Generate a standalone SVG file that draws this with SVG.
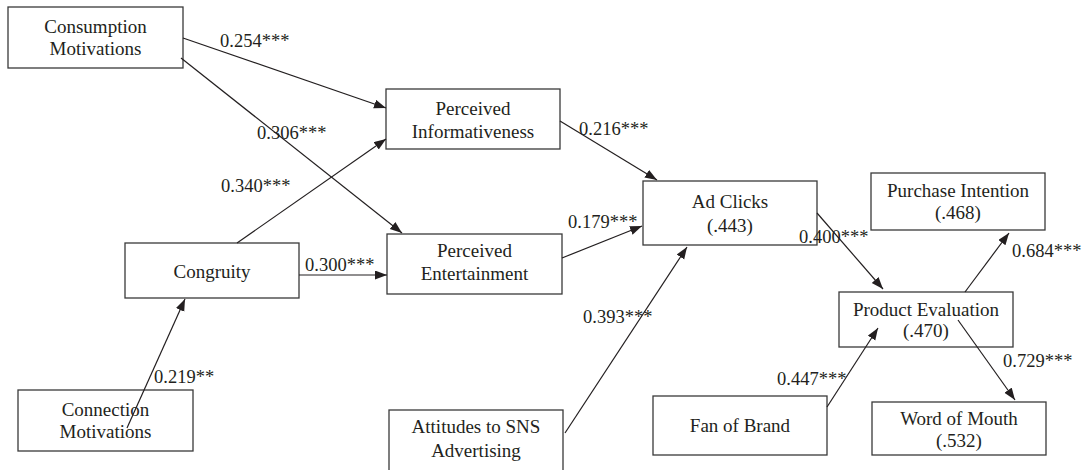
<svg xmlns="http://www.w3.org/2000/svg" width="1084" height="470" viewBox="0 0 1084 470" font-family="'Liberation Serif', 'Times New Roman', 'DejaVu Serif', serif">
<style>
.box{fill:#fff;stroke:#3a3a3a;stroke-width:1.3}
text{font-family:'Liberation Serif','Times New Roman','DejaVu Serif',serif;font-size:18.5px;fill:#231f20}
.t{text-anchor:middle;font-size:19px}
.c{stroke:#231f20;stroke-width:1.2;fill:none;marker-end:url(#ah)}
</style>
<defs>
<marker id="ah" markerUnits="userSpaceOnUse" markerWidth="13" markerHeight="10" refX="12" refY="4.5" orient="auto">
<path d="M0,0 L12,4.5 L0,9 z" fill="#231f20"/>
</marker>
</defs>
<rect width="1084" height="470" fill="#fff"/>
<g id="consumption">
<rect class="box" x="8" y="7" width="175" height="61"/>
<text class="t" x="95.5" y="33">Consumption</text>
<text class="t" x="95.5" y="55">Motivations</text>
</g>
<g id="connection">
<rect class="box" x="18" y="390" width="175" height="61"/>
<text class="t" x="105.5" y="416">Connection</text>
<text class="t" x="105.5" y="438">Motivations</text>
</g>
<g id="congruity">
<rect class="box" x="125" y="243" width="174" height="55"/>
<text class="t" x="212" y="278">Congruity</text>
</g>
<g id="informativeness">
<rect class="box" x="386" y="89" width="174" height="60"/>
<text class="t" x="473" y="115">Perceived</text>
<text class="t" x="473" y="138">Informativeness</text>
</g>
<g id="entertainment">
<rect class="box" x="387" y="234" width="175" height="60"/>
<text class="t" x="474.5" y="257">Perceived</text>
<text class="t" x="474.5" y="280">Entertainment</text>
</g>
<g id="attitudes">
<rect class="box" x="389" y="410" width="174" height="70"/>
<text class="t" x="476" y="433">Attitudes to SNS</text>
<text class="t" x="476" y="457">Advertising</text>
</g>
<g id="adclicks">
<rect class="box" x="643" y="181" width="174" height="64"/>
<text class="t" x="730" y="208">Ad Clicks</text>
<text class="t" x="730" y="232">(.443)</text>
</g>
<g id="purchase">
<rect class="box" x="871" y="173" width="174" height="57"/>
<text class="t" x="958" y="197">Purchase Intention</text>
<text class="t" x="958" y="219">(.468)</text>
</g>
<g id="product">
<rect class="box" x="839" y="292" width="174" height="55"/>
<text class="t" x="926" y="316">Product Evaluation</text>
<text class="t" x="926" y="337">(.470)</text>
</g>
<g id="fan">
<rect class="box" x="653" y="396" width="174" height="59"/>
<text class="t" x="740" y="432">Fan of Brand</text>
</g>
<g id="wom">
<rect class="box" x="872" y="402" width="174" height="53"/>
<text class="t" x="959" y="425">Word of Mouth</text>
<text class="t" x="959" y="447">(.532)</text>
</g>
<g id="connectors">
<line class="c" x1="183" y1="38" x2="386" y2="108"/>
<line class="c" x1="181" y1="58" x2="402" y2="233"/>
<line class="c" x1="237" y1="243" x2="386" y2="139"/>
<line class="c" x1="299" y1="275" x2="387" y2="275"/>
<line class="c" x1="127" y1="428" x2="185" y2="299"/>
<line class="c" x1="560" y1="121" x2="657" y2="180"/>
<line class="c" x1="562" y1="258" x2="642" y2="226"/>
<line class="c" x1="565" y1="433" x2="687" y2="247"/>
<line class="c" x1="817" y1="213" x2="883" y2="289"/>
<line class="c" x1="965" y1="292" x2="1009" y2="233"/>
<line class="c" x1="958" y1="320" x2="1015" y2="400"/>
<line class="c" x1="827" y1="407" x2="878" y2="328"/>
</g>
<g id="labels">
<text x="220" y="47">0.254***</text>
<text x="257" y="139">0.306***</text>
<text x="221" y="192">0.340***</text>
<text x="305" y="271">0.300***</text>
<text x="154" y="383">0.219**</text>
<text x="579" y="135">0.216***</text>
<text x="568" y="228">0.179***</text>
<text x="583" y="323">0.393***</text>
<text x="799" y="243">0.400***</text>
<text x="1012" y="257">0.684***</text>
<text x="1003" y="367">0.729***</text>
<text x="777" y="385">0.447***</text>
</g>
</svg>
